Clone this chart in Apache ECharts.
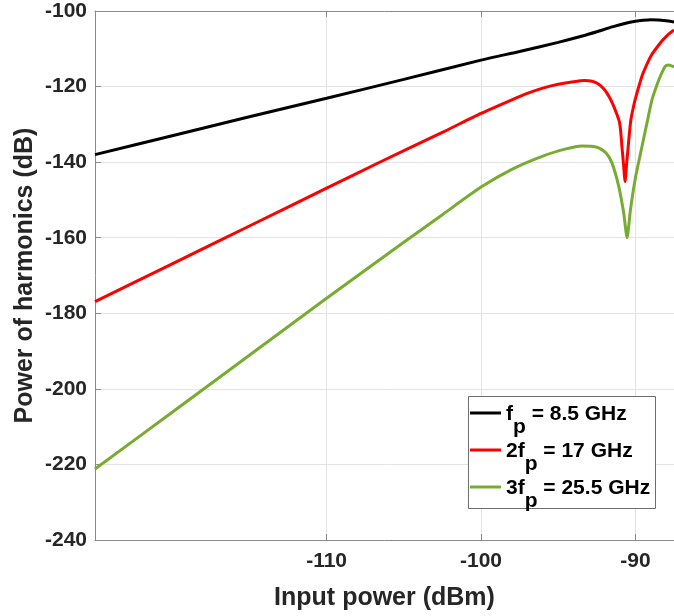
<!DOCTYPE html>
<html>
<head>
<meta charset="utf-8">
<script src="https://cdn.jsdelivr.net/npm/echarts@6/dist/echarts.min.js"></script>
<style>
html,body{margin:0;padding:0;background:#fff;}
#chart{width:674px;height:616px;}
</style>
</head>
<body>
<div id="chart"></div>
<script>
// ---- data ----
const seriesNames = ['fp = 8.5 GHz', '2fp = 17 GHz', '3fp = 25.5 GHz'];
const legendMain = ['f', '2f', '3f'];
const legendSub = 'p';
const legendRest = [' = 8.5 GHz', ' = 17 GHz', ' = 25.5 GHz'];

const xTicks = [-110, -100, -90];
const yTicks = [-240, -220, -200, -180, -160, -140, -120, -100];

const blackX = [-125, -120, -115, -110, -105, -100, -97.5, -95, -93.5, -92.5, -91.5, -90.5, -90, -89.5, -89, -88.5, -88, -87.5];
const blackY = [-138.0, -133.0, -128.0, -123.1, -118.1, -113.0, -110.7, -108.3, -106.7, -105.5, -104.2, -103.1, -102.7, -102.45, -102.3, -102.35, -102.6, -102.9];

const redX = [-125, -120, -115, -110, -106.6, -102.3, -100, -98, -97, -96, -95, -94, -93.3, -92.8, -92.4, -92.1, -91.8, -91.5, -91.25, -91.04, -90.95, -90.87, -90.77, -90.67, -90.57, -90.48, -90.38, -90.29, -90.15, -90, -89.57, -89.2, -88.92, -88.6, -88.27, -87.9, -87.5];
const redY = [-176.9, -166.9, -156.9, -146.9, -140.1, -131.7, -127.1, -123.5, -121.8, -120.4, -119.4, -118.7, -118.4, -118.6, -119.3, -120.4, -122.0, -124.3, -126.8, -129.3, -132.0, -136.0, -140.5, -145.1, -140.5, -136.5, -132.0, -128.7, -125.8, -123.2, -117.2, -113.6, -111.4, -109.6, -107.9, -106.3, -105.0];

const greenX = [-125, -120, -115, -110, -105, -102.5, -100, -98, -96, -94.5, -93.5, -92.9, -92.38, -91.9, -91.52, -91.08, -90.76, -90.54, -90.32, -90, -89.57, -89.25, -88.92, -88.6, -88.38, -88.06, -87.84, -87.5];
const greenY = [-221.2, -206.2, -191.1, -176.0, -161.2, -153.9, -146.6, -141.9, -138.4, -136.5, -135.7, -135.8, -136.2, -137.6, -140.2, -146.4, -153.4, -160.0, -152.6, -144.2, -135.8, -129.6, -123.4, -119.5, -117.2, -114.6, -114.3, -114.8];

function pairs(xs, ys) { return xs.map((x, i) => [x, ys[i]]); }

const FONT = '"Liberation Sans", Arial, sans-serif';
const TXT = '#262626';
const AXIS = '#8a8a8a';
const GRIDC = '#e3e3e3';

const chart = echarts.init(document.getElementById('chart'), null, {renderer: 'canvas'});

const lineCommon = {
  type: 'line', showSymbol: false, symbol: 'none', smooth: 0.2,
  z: 2, animation: false
};

const option = {
  animation: false,
  backgroundColor: '#ffffff',
  grid: {left: 95, top: 11, right: -1, bottom: 75, containLabel: false},
  xAxis: [{
    type: 'value', min: -125, max: -87.5, position: 'bottom',
    name: 'Input power (dBm)', nameLocation: 'middle', nameGap: 46, nameMoveOverlap: false,
    nameTextStyle: {fontFamily: FONT, fontWeight: 'bold', fontSize: 25, color: TXT},
    axisLine: {show: true, onZero: false, lineStyle: {color: AXIS, width: 1}},
    axisTick: {show: true, inside: true, length: 6, customValues: xTicks, lineStyle: {color: AXIS}},
    axisLabel: {show: true, customValues: xTicks, margin: 11, fontFamily: FONT, fontWeight: 'bold', fontSize: 21, color: TXT},
    splitLine: {show: true, lineStyle: {color: GRIDC, width: 1}}
  }, {
    type: 'value', min: -125, max: -87.5, position: 'top',
    axisLine: {show: true, onZero: false, lineStyle: {color: AXIS, width: 1}},
    axisTick: {show: true, inside: true, length: 6, customValues: xTicks, lineStyle: {color: AXIS}},
    axisLabel: {show: false},
    splitLine: {show: false}
  }],
  yAxis: [{
    type: 'value', min: -240, max: -100, interval: 20,
    name: 'Power of harmonics (dB)', nameLocation: 'middle', nameGap: 57, nameRotate: 90, nameMoveOverlap: false,
    nameTextStyle: {fontFamily: FONT, fontWeight: 'bold', fontSize: 25, color: TXT},
    axisLine: {show: true, onZero: false, lineStyle: {color: AXIS, width: 1}},
    axisTick: {show: true, inside: true, length: 6, lineStyle: {color: AXIS}},
    axisLabel: {show: true, margin: 8, fontFamily: FONT, fontWeight: 'bold', fontSize: 21, color: TXT},
    splitLine: {show: true, lineStyle: {color: GRIDC, width: 1}}
  }],
  legend: {
    show: true, orient: 'vertical', left: 470, top: 402, padding: 0, itemGap: 1,
    itemWidth: 31, itemHeight: 3, icon: 'rect', z: 5,
    data: seriesNames,
    formatter: function (name) {
      const i = seriesNames.indexOf(name);
      return '{m|' + legendMain[i] + '}{s|' + legendSub + '}{m|' + legendRest[i] + '}';
    },
    textStyle: {
      fontFamily: FONT, fontWeight: 'bold', fontSize: 21, color: '#000',
      rich: {
        m: {fontFamily: FONT, fontWeight: 'bold', fontSize: 21, color: '#000', lineHeight: 22, padding: [2, 0, 0, 0], verticalAlign: 'top'},
        s: {fontFamily: FONT, fontWeight: 'bold', fontSize: 21, color: '#000', lineHeight: 22, padding: [15, 0, 0, 0], verticalAlign: 'top'}
      }
    }
  },
  graphic: [{
    type: 'rect', z: 4, left: 468, top: 396,
    shape: {width: 187, height: 112},
    style: {fill: '#ffffff', stroke: '#6e6e6e', lineWidth: 1}
  }],
  series: [
    Object.assign({}, lineCommon, {name: seriesNames[0], data: pairs(blackX, blackY), lineStyle: {color: '#000000', width: 3}, itemStyle: {color: '#000000'}}),
    Object.assign({}, lineCommon, {name: seriesNames[1], data: pairs(redX, redY), lineStyle: {color: '#ff0000', width: 3}, itemStyle: {color: '#ff0000'}}),
    Object.assign({}, lineCommon, {name: seriesNames[2], data: pairs(greenX, greenY), lineStyle: {color: '#77ac30', width: 3}, itemStyle: {color: '#77ac30'}})
  ]
};
chart.setOption(option);
</script>
</body>
</html>
